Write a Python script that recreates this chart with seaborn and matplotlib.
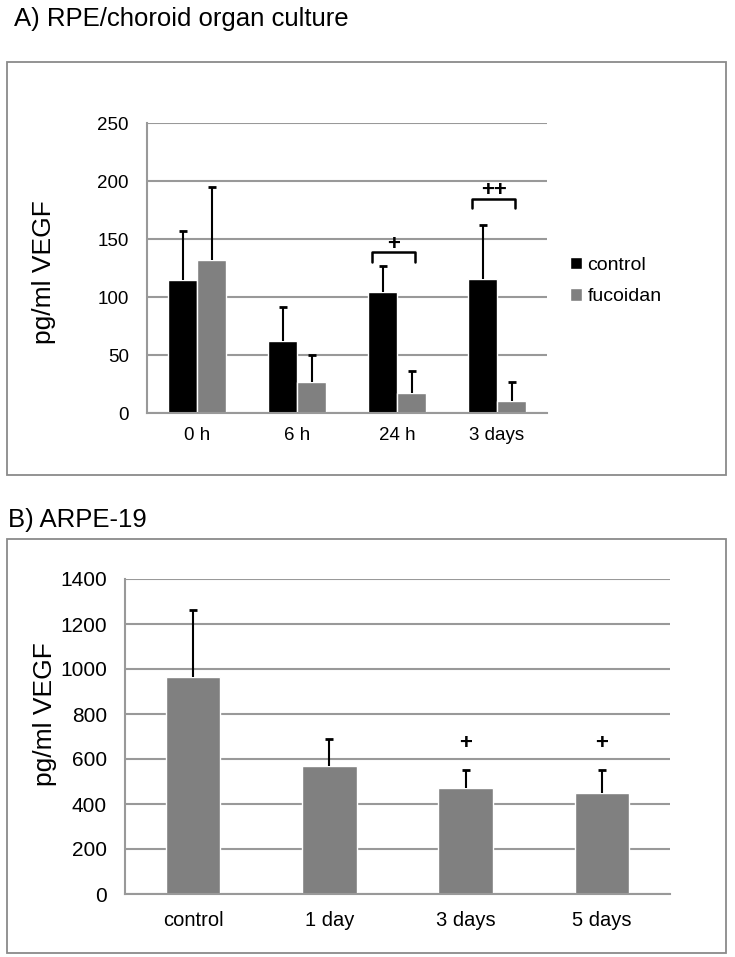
import numpy as np
import pandas as pd
import matplotlib
matplotlib.use('Agg')
import matplotlib.pyplot as plt
from matplotlib.patches import Rectangle
from matplotlib.ticker import MultipleLocator, FixedLocator
import seaborn as sns

# ---- data ----
times_a = ['0 h', '6 h', '24 h', '3 days']
groups_a = ['control', 'fucoidan']
control_mean = [114.5, 62.5, 104, 115.5]
control_sd = [42.5, 28.5, 22.5, 47]
fucoidan_mean = [132, 26.5, 17.5, 10.5]
fucoidan_sd = [63, 23.5, 18.5, 16]

times_b = ['control', '1 day', '3 days', '5 days']
arpe_mean = [966, 571, 469, 448]
arpe_sd = [296, 119, 84, 103]

GRID = '#999999'
BAR_GREY = '#808080'


def style_axis(ax, ymax, ystep, tick_fs, xlab_pad):
    ax.set_ylim(0, ymax)
    ax.yaxis.set_major_locator(MultipleLocator(ystep))
    ax.grid(axis='y', color=GRID, linewidth=1.5)
    ax.grid(axis='x', visible=False)
    ax.set_axisbelow(True)
    for s in ['top', 'right']:
        ax.spines[s].set_visible(False)
    for s in ['left', 'bottom']:
        ax.spines[s].set_color(GRID)
        ax.spines[s].set_linewidth(1.5)
    n = len(ax.get_xticks())
    ax.set_xlim(-0.5, n - 0.5)
    ax.xaxis.set_minor_locator(FixedLocator(np.arange(-0.5, n, 1.0)))
    ax.tick_params(axis='x', which='major', length=0, pad=xlab_pad, labelsize=tick_fs,
                   labelcolor='black')
    ax.tick_params(axis='x', which='minor', length=5, width=1.3, color=GRID, direction='out')
    ax.tick_params(axis='y', length=5, width=1.3, color=GRID, direction='out', pad=8,
                   labelsize=tick_fs, labelcolor='black')
    ax.set_xlabel('')
    ax.set_ylabel('')


def upper_errorbars(ax, bars, errs):
    # excel-style: only the plus side, cap on top only
    for p, e in zip(bars, errs):
        x = p.get_x() + p.get_width() / 2
        h = p.get_height()
        _, caps, _ = ax.errorbar(x, h, yerr=[[0], [e]], fmt='none', ecolor='black',
                                 elinewidth=1.5, capsize=2.6, capthick=2, zorder=4)
        caps[0].set_visible(False)


def main():
    sns.set_style('white')
    plt.rcParams['font.family'] = ['Liberation Sans', 'DejaVu Sans']
    plt.rcParams['text.color'] = 'black'

    fig = plt.figure(figsize=(7.35, 9.57), dpi=100)
    W, H = 735.0, 957.0

    # panel frames
    for y0, y1 in [(62, 475), (539, 953)]:
        fig.patches.append(Rectangle((7 / W, 1 - y1 / H), (726 - 7) / W, (y1 - y0) / H,
                                     transform=fig.transFigure, fill=False,
                                     edgecolor='#8a8a8a', linewidth=1.3))

    fig.text(14 / W, 1 - 26 / H, 'A) RPE/choroid organ culture', fontsize=18.5, va='baseline')
    fig.text(8 / W, 1 - 527 / H, 'B) ARPE-19', fontsize=18.5, va='baseline')

    # ---------- A ----------
    df_a = pd.DataFrame({
        'time': times_a * 2,
        'group': [groups_a[0]] * 4 + [groups_a[1]] * 4,
        'vegf': control_mean + fucoidan_mean,
    })
    ax1 = fig.add_axes([147 / W, 1 - 413 / H, 400 / W, 290 / H])
    sns.barplot(data=df_a, x='time', y='vegf', hue='group', order=times_a,
                hue_order=groups_a, palette=['black', BAR_GREY], width=0.58,
                errorbar=None, saturation=1, ax=ax1)
    style_axis(ax1, 250, 50, 13.5, 10)
    upper_errorbars(ax1, ax1.containers[0].patches, control_sd)
    upper_errorbars(ax1, ax1.containers[1].patches, fucoidan_sd)

    # significance brackets
    for i, (top, leg, mark, my) in zip([2, 3], [(139, 130.5, '+', 145.5),
                                               (184.5, 176.5, '++', 191.5)]):
        xs = [i - 0.25, i - 0.25, i + 0.18, i + 0.18]
        ax1.plot(xs, [leg, top, top, leg], color='black', linewidth=1.8, zorder=5)
        ax1.text(i - 0.035, my, mark, ha='center', va='center', fontsize=16,
                 fontweight='bold')

    sns.move_legend(ax1, 'center left', bbox_to_anchor=(570 / W, 1 - 281 / H),
                    bbox_transform=fig.transFigure, title=None, frameon=False,
                    fontsize=14, handlelength=0.6, handleheight=0.6,
                    handletextpad=0.3, labelspacing=0.75, borderpad=0,
                    borderaxespad=0, labelcolor='black')

    fig.text(44 / W, 1 - 272 / H, 'pg/ml VEGF', rotation=90, fontsize=19,
             ha='center', va='center')

    # ---------- B ----------
    df_b = pd.DataFrame({'time': times_b, 'vegf': arpe_mean})
    ax2 = fig.add_axes([125 / W, 1 - 894 / H, 545 / W, 315 / H])
    sns.barplot(data=df_b, x='time', y='vegf', order=times_b, color=BAR_GREY,
                width=0.40, errorbar=None, saturation=1, ax=ax2)
    style_axis(ax2, 1400, 200, 15, 12)
    ax2.tick_params(axis='x', which='major', labelsize=14.5)
    upper_errorbars(ax2, ax2.containers[0].patches, arpe_sd)
    for i in [2, 3]:
        ax2.text(i, 670, '+', ha='center', va='center', fontsize=16, fontweight='bold')

    fig.text(45 / W, 1 - 714 / H, 'pg/ml VEGF', rotation=90, fontsize=19,
             ha='center', va='center')

    fig.savefig('out.png', dpi=100)


if __name__ == '__main__':
    main()
